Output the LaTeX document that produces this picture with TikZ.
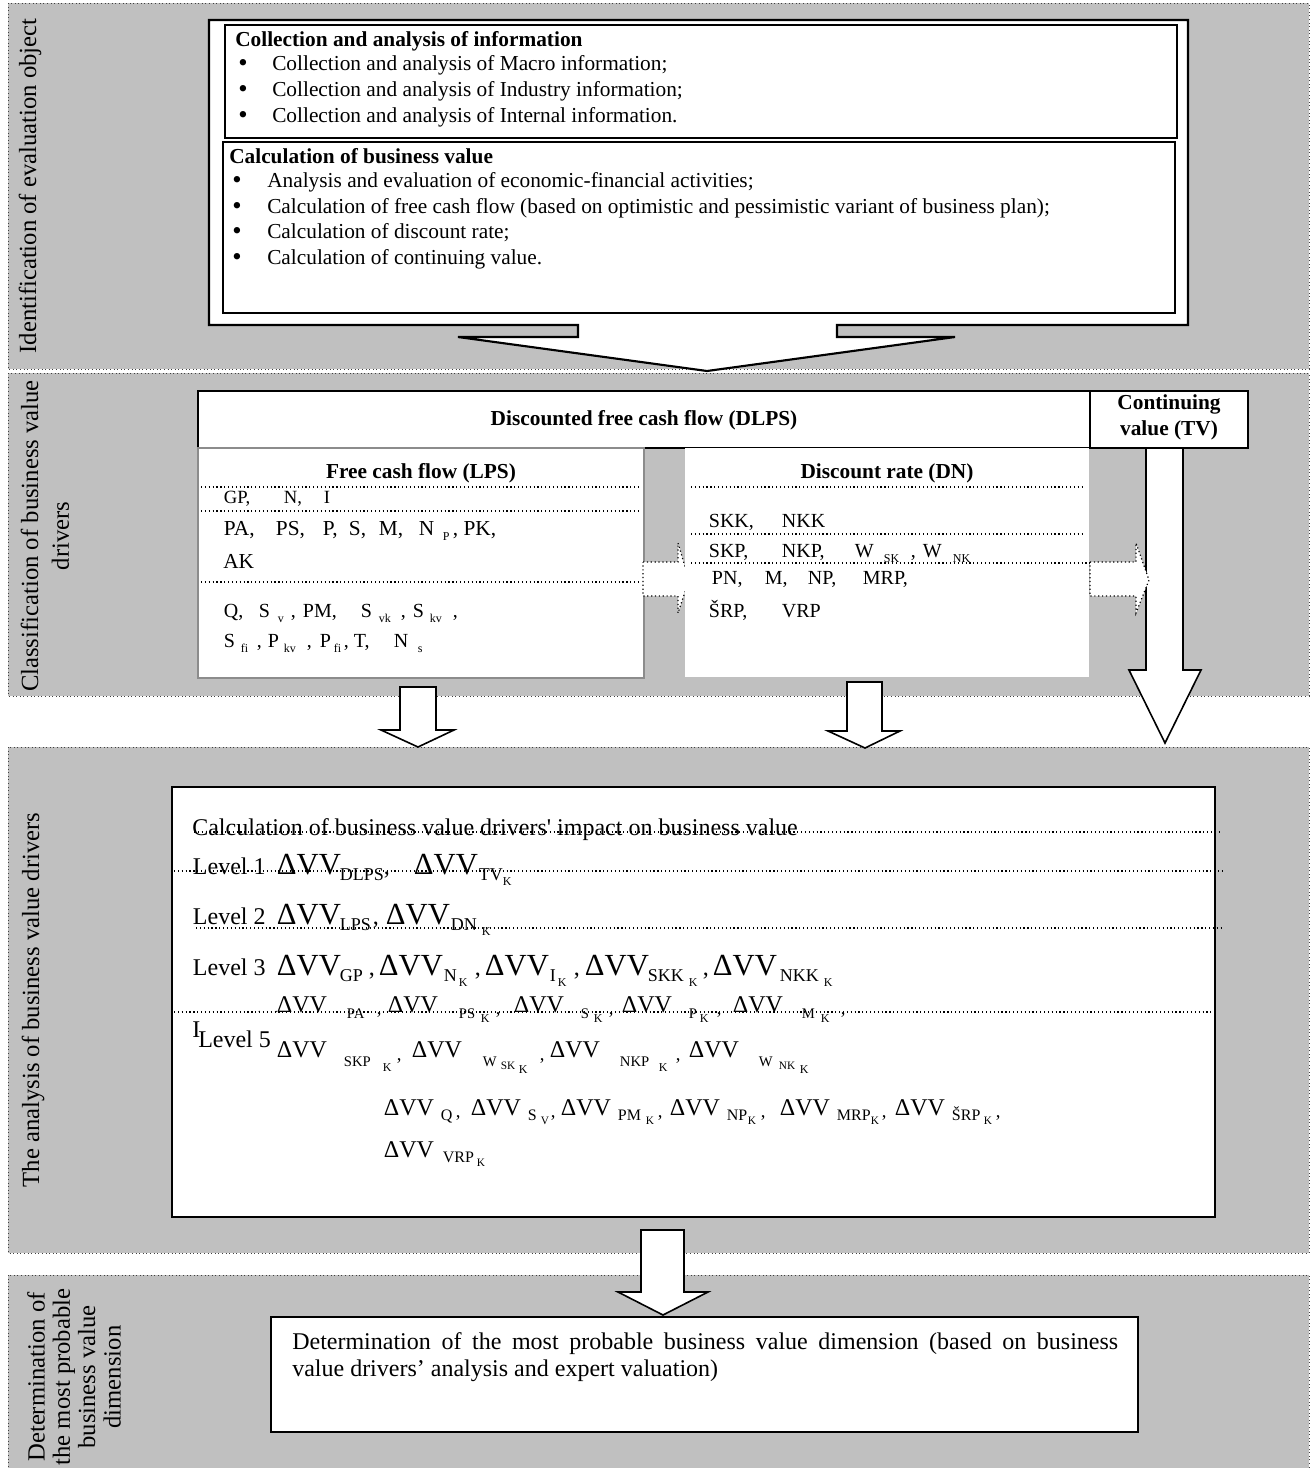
\documentclass[tikz,border=0pt]{standalone}
\usepackage{fontspec}
\setmainfont{Liberation Serif}
\usepackage{graphicx}
\definecolor{bandgray}{RGB}{192,192,192}
\newdimen\pxu \pxu=0.75pt
\newcommand{\tk}[2]{\rlap{\hspace{#1\pxu}#2}}
\newcommand{\lw}[3]{\raisebox{-#1\pxu}{\fontsize{#2}{#2}\selectfont #3}}
\newcommand{\bigdv}{{\fontsize{23}{23}\selectfont ΔVV}}
\newcommand{\smdv}{{\fontsize{18}{18}\selectfont ΔVV}}
\newcommand{\fA}{\fontsize{16}{19}\selectfont}
\tikzset{
  band/.style={fill=bandgray, draw=black!75, dotted, line width=0.7pt},
  thickbox/.style={draw=black, fill=white, line width=1.6pt},
  midbox/.style={draw=black, fill=white, line width=1.2pt},
  sepline/.style={draw=black, dotted, line width=0.9pt},
  dotarrow/.style={draw=black, fill=white, dotted, line width=0.9pt},
  blockarrow/.style={draw=black, fill=white, line width=1.2pt, line join=miter},
  row/.style={anchor=base west, inner sep=0pt},
  bul/.style={anchor=base west, inner sep=0pt, font=\fontsize{20}{20}\selectfont},
  lab/.style={rotate=90, align=center, inner sep=0pt, font=\fontsize{18.5}{23}\selectfont}
}
\begin{document}
\begin{tikzpicture}[x=0.75pt,y=-0.75pt]
\useasboundingbox (0,0) rectangle (1311,1468);
% ---------- bands ----------
\draw[band] (8,3) rectangle (1309,369);
\draw[band] (8,373) rectangle (1309,696);
\draw[band] (8,747) rectangle (1309,1253);
\draw[band] (8,1275) rectangle (1309,1475);
\node[lab] (lab1) at (30,186) {Identification of evaluation object};
\node[lab] (lab2) at (45,536) {Classification of business value\\drivers};
\node[lab, font=\fontsize{18.5}{19}\selectfont] (lab4) at (74,1377) {Determination of\\the most probable\\business value\\dimension};
\node[lab] (lab3) at (33,1000) {The analysis of business value drivers};
% ---------- band 1 ----------
\draw[thickbox] (209,20) -- (1188,20) -- (1188,325) -- (837,325) -- (837,337) -- (955,337) -- (707,371) -- (458,337) -- (578,337) -- (578,325) -- (209,325) -- cycle;
\draw[midbox] (225,25) rectangle (1177,138);
\draw[midbox] (223,142) rectangle (1175,313);
\node[row, font=\fA\bfseries] (h1) at (235,46) {Collection and analysis of information};
\node[bul] (b11) at (238,71) {•};
\node[row, font=\fA] (t11) at (272,70) {Collection and analysis of Macro information;};
\node[bul] (b12) at (238,97) {•};
\node[row, font=\fA] (t12) at (272,96) {Collection and analysis of Industry information;};
\node[bul] (b13) at (238,123) {•};
\node[row, font=\fA] (t13) at (272,122) {Collection and analysis of Internal information.};
\node[row, font=\fA\bfseries] (h2) at (229,163) {Calculation of business value};
\node[bul] (b21) at (232,188) {•};
\node[row, font=\fA] (t21) at (267,187) {Analysis and evaluation of economic-financial activities;};
\node[bul] (b22) at (232,214) {•};
\node[row, font=\fA] (t22) at (267,213) {Calculation of free cash flow (based on optimistic and pessimistic variant of business plan);};
\node[bul] (b23) at (232,239) {•};
\node[row, font=\fA] (t23) at (267,238) {Calculation of discount rate;};
\node[bul] (b24) at (232,265) {•};
\node[row, font=\fA] (t24) at (267,264) {Calculation of continuing value.};
% ---------- band 2 ----------
\draw[midbox, line width=1.6pt] (198,391) rectangle (1090,448);
\draw[midbox, line width=1.6pt] (1090,391) rectangle (1248,448);
\node[anchor=base, inner sep=0pt, font=\fA\bfseries] (dlps) at (644,425) {Discounted free cash flow (DLPS)};
\node[align=center, inner sep=0pt, font=\fontsize{16}{19.5}\selectfont\bfseries] (tv) at (1169,417) {Continuing\\value (TV)};
\draw[fill=white, draw=black!45, line width=0.8pt] (198,448) rectangle (644,678);
\draw[dotarrow] (643,562) -- (678,562) -- (678,543) -- (689,580) -- (678,613) -- (678,596) -- (643,596) -- cycle;
\fill[white] (685,448) rectangle (1089,677);
\node[anchor=base, inner sep=0pt, font=\fA\bfseries] (lps) at (421,478) {Free cash flow (LPS)};
\node[anchor=base, inner sep=0pt, font=\fA\bfseries] (dn) at (887,478) {Discount rate (DN)};
\draw[sepline] (201,487) -- (639,487);
\draw[sepline] (201,511) -- (639,511);
\draw[sepline] (201,582) -- (639,582);
\draw[sepline] (691,487) -- (1085,487);
\draw[sepline] (691,534) -- (1085,534);
\draw[sepline] (691,563) -- (1090,563);
\node[row, font=\fontsize{14}{14}\selectfont] (r1) at (223,503) {\tk{0}{GP,}\tk{60}{N,}\tk{100}{I}};
\node[row, font=\fontsize{16}{16}\selectfont] (r2) at (223,535) {\tk{0}{PA,}\tk{52}{PS,}\tk{99}{P,}\tk{125}{S,}\tk{155}{M,}\tk{195}{N}\tk{219}{\lw{5}{9}{P}}\tk{229}{, PK,}};
\node[row, font=\fontsize{16}{16}\selectfont] (r3) at (223,568) {AK};
\node[row, font=\fontsize{15}{15}\selectfont] (r4) at (223,617) {\tk{0}{Q,}\tk{35}{S}\tk{54}{\lw{5}{9}{v}}\tk{67}{,}\tk{79}{PM,}\tk{137}{S}\tk{155}{\lw{5}{9}{vk}}\tk{177}{,}\tk{189}{S}\tk{206}{\lw{5}{9}{kv}}\tk{229}{,}};
\node[row, font=\fontsize{15}{15}\selectfont] (r5) at (223,647) {\tk{0}{S}\tk{17}{\lw{5}{9}{fi}}\tk{33}{,}\tk{44}{P}\tk{60}{\lw{5}{9}{kv}}\tk{83}{,}\tk{96}{P}\tk{110}{\lw{5}{9}{fi}}\tk{120}{,}\tk{130}{T,}\tk{170}{N}\tk{194}{\lw{5}{9}{s}}};
\node[row, font=\fontsize{15}{15}\selectfont] (d1) at (708,527) {\tk{0}{SKK,}\tk{73}{NKK}};
\node[row, font=\fontsize{15}{15}\selectfont] (d2) at (708,557) {\tk{0}{SKP,}\tk{73}{NKP,}\tk{146}{W}\tk{175}{\lw{5}{9}{SK}}\tk{202}{,}\tk{214}{W}\tk{244}{\lw{5}{9}{NK}}};
\node[row, font=\fontsize{15}{15}\selectfont] (d3) at (708,584) {\tk{3}{PN,}\tk{56}{M,}\tk{99}{NP,}\tk{154}{MRP,}};
\node[row, font=\fontsize{15}{15}\selectfont] (d4) at (708,617) {\tk{0}{ŠRP,}\tk{73}{VRP}};
\draw[blockarrow] (1146,448) -- (1183,448) -- (1183,670) -- (1201,670) -- (1165,743) -- (1129,670) -- (1146,670) -- cycle;
\draw[dotarrow] (1090,562) -- (1136,562) -- (1136,543) -- (1149,580) -- (1136,613) -- (1136,596) -- (1090,596) -- cycle;
\draw[blockarrow] (400,687) -- (436,687) -- (436,730) -- (454,730) -- (418,747) -- (381,730) -- (400,730) -- cycle;
\draw[blockarrow] (847,682) -- (882,682) -- (882,731) -- (900,731) -- (865,748) -- (828,731) -- (847,731) -- cycle;
% ---------- band 3 ----------
\draw[midbox, line width=1.6pt] (172,787) rectangle (1215,1217);
\draw[sepline] (194,832) -- (1222,832);
\draw[sepline] (174,871) -- (1222,871);
\draw[sepline] (196,928) -- (1222,928);
\draw[sepline] (174,1012) -- (1215,1012);
\node[row, font=\fontsize{18}{18}\selectfont] (calc) at (192,835) {Calculation of business value drivers\textquotesingle{} impact on business value};
\node[row, font=\fontsize{18}{18}\selectfont] (lv1) at (192,874) {\tk{0}{Level 1}\tk{84}{\bigdv}\tk{147}{\lw{6}{13.5}{DLPS}}\tk{191}{,}\tk{221}{\bigdv}\tk{286}{\lw{6}{13.5}{TV}}\tk{310}{\lw{11}{9}{K}}};
\node[row, font=\fontsize{18}{18}\selectfont] (lv2) at (192,924) {\tk{0}{Level 2}\tk{84}{\bigdv}\tk{147}{\lw{6}{13.5}{LPS}}\tk{180}{,}\tk{193}{\bigdv}\tk{258}{\lw{6}{13.5}{DN}}\tk{289}{\lw{11}{9}{K}}};
\node[row, font=\fontsize{18}{18}\selectfont] (lv3) at (192,975) {\tk{0}{Level 3}\tk{84}{\bigdv}\tk{147}{\lw{6}{13.5}{GP}}\tk{176}{,}\tk{186}{\bigdv}\tk{251}{\lw{6}{13.5}{N}}\tk{266}{\lw{11}{9}{K}}\tk{282}{,}\tk{292}{\bigdv}\tk{357}{\lw{6}{13.5}{I}}\tk{365}{\lw{11}{9}{K}}\tk{381}{,}\tk{392}{\bigdv}\tk{455}{\lw{6}{13.5}{SKK}}\tk{496}{\lw{11}{9}{K}}\tk{510}{,}\tk{520}{\bigdv}\tk{587}{\lw{6}{13.5}{NKK}}\tk{631}{\lw{11}{9}{K}}};
\node[row, font=\fontsize{18}{18}\selectfont] (lv4) at (192,1012) {\tk{65}{\fontsize{9}{9}\selectfont .}\tk{82}{\fontsize{9}{9}\selectfont .}\tk{84}{\smdv}\tk{154}{\lw{6}{11}{PA}}\tk{184}{\lw{2}{14}{,}}\tk{195}{\smdv}\tk{266}{\lw{6}{11}{PS}}\tk{288}{\lw{10}{9}{K}}\tk{303}{\lw{2}{14}{,}}\tk{321}{\smdv}\tk{388}{\lw{6}{11}{S}}\tk{401}{\lw{10}{9}{K}}\tk{416}{\lw{2}{14}{,}}\tk{429}{\smdv}\tk{496}{\lw{6}{11}{P}}\tk{507}{\lw{10}{9}{K}}\tk{524}{\lw{2}{14}{,}}\tk{540}{\smdv}\tk{609}{\lw{6}{11}{M}}\tk{628}{\lw{10}{9}{K}}\tk{648}{\lw{2}{14}{,}}};
\node[row, font=\fontsize{18}{18}\selectfont] (lvI) at (192,1037) {I};
\node[row, font=\fontsize{18}{18}\selectfont] (lv5) at (198,1047) {Level 5};
\node[row, font=\fontsize{18}{18}\selectfont] (lv5b) at (192,1057) {\tk{84}{\smdv}\tk{151}{\lw{9}{11}{SKP}}\tk{190}{\lw{14}{9}{K}}\tk{204}{\lw{3}{14}{,}}\tk{219}{\smdv}\tk{290}{\lw{9}{11}{W}}\tk{308}{\lw{12}{8.5}{SK}}\tk{326}{\lw{16}{9}{K}}\tk{347}{\lw{3}{14}{,}}\tk{357}{\smdv}\tk{427}{\lw{9}{11}{NKP}}\tk{466}{\lw{14}{9}{K}}\tk{483}{\lw{3}{14}{,}}\tk{496}{\smdv}\tk{566}{\lw{9}{11}{W}}\tk{586}{\lw{12}{8.5}{NK}}\tk{607}{\lw{16}{9}{K}}};
\node[row, font=\fontsize{18}{18}\selectfont] (lvq) at (383,1115) {\tk{0}{\smdv}\tk{57}{\lw{5}{12}{Q}}\tk{72}{\lw{2}{14}{,}}\tk{87}{\smdv}\tk{144}{\lw{5}{12}{S}}\tk{157}{\lw{9}{8.5}{V}}\tk{167}{\lw{2}{14}{,}}\tk{177}{\smdv}\tk{234}{\lw{5}{12}{PM}}\tk{262}{\lw{9}{8.5}{K}}\tk{274}{\lw{2}{14}{,}}\tk{286}{\smdv}\tk{343}{\lw{5}{12}{NP}}\tk{364}{\lw{9}{8.5}{K}}\tk{377}{\lw{2}{14}{,}}\tk{396}{\smdv}\tk{453}{\lw{5}{12}{MRP}}\tk{487}{\lw{9}{8.5}{K}}\tk{498}{\lw{2}{14}{,}}\tk{511}{\smdv}\tk{568}{\lw{5}{12}{ŠRP}}\tk{600}{\lw{9}{8.5}{K}}\tk{612}{\lw{2}{14}{,}}};
\node[row, font=\fontsize{18}{18}\selectfont] (lvv) at (383,1157) {\tk{0}{\smdv}\tk{59}{\lw{5}{12}{VRP}}\tk{93}{\lw{9}{8.5}{K}}};
% ---------- band 4 ----------
\draw[blockarrow] (641,1230) -- (684,1230) -- (684,1292) -- (708,1292) -- (663,1315) -- (618,1292) -- (641,1292) -- cycle;
\draw[midbox] (271,1317) rectangle (1138,1432);
\node[anchor=north west, inner sep=0pt, text width=619.5pt, align=justify, font=\fontsize{18}{20.25}\selectfont] (fin) at (292,1332) {Determination of the most probable business value dimension (based on business\linebreak value drivers’ analysis and expert valuation)};
\end{tikzpicture}
\end{document}
